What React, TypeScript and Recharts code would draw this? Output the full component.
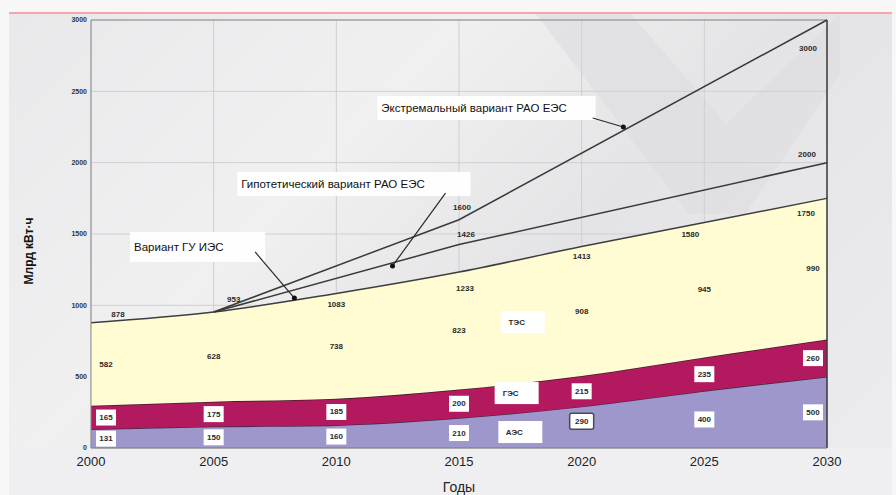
import React from "react"
import {
  ComposedChart,
  Area,
  Line,
  XAxis,
  YAxis,
  CartesianGrid,
  LabelList,
  ReferenceLine,
  ReferenceArea,
  ReferenceDot,
} from "recharts"

// Производство электроэнергии, млрд кВт·ч
const years = [2000, 2005, 2010, 2015, 2020, 2025, 2030]
const aes = [131, 150, 160, 210, 290, 400, 500]
const ges = [165, 175, 185, 200, 215, 235, 260]
const tes = [582, 628, 738, 823, 908, 945, 990]
const hypothetical = [null, 953, null, 1426, null, null, 2000]
const extreme = [null, 953, null, 1600, null, null, 3000]
const yTicks = [0, 500, 1000, 1500, 2000, 2500, 3000]

const FONT = "'Liberation Sans', Arial, sans-serif"

// label offsets [dx, dy] in px
const TOTAL_OFFSETS = [[27, -8], [20, -13], [0, 11], [6, 16], [0, 10], [-14, 12], [-21, 15]]
const HYP_OFFSETS = [[0, 0], [0, 0], [0, 0], [7, -10], [0, 0], [0, 0], [-20, -8]]
const EXT_OFFSETS = [[0, 0], [0, 0], [0, 0], [3, -12], [0, 0], [0, 0], [-19, 28]]
const BAND_DX = [15, 0, 0, 0, 0, 0, -14]

const data = years.map((year, i) => ({
  year,
  aes: aes[i],
  ges: ges[i],
  tes: tes[i],
  total: aes[i] + ges[i] + tes[i],
  hyp: hypothetical[i],
  ext: extreme[i],
  aesMid: aes[i] / 2,
  gesMid: aes[i] + ges[i] / 2,
  tesMid: aes[i] + ges[i] + tes[i] / 2,
}))

const smallNum = (
  values: (number | null)[],
  offsets: number[][] | null,
  boxed: boolean,
  skip: number[] = [],
  framed: number[] = []
) => (props: any) => {
  const { x, y, index } = props
  const v = values[index]
  if (v == null || skip.includes(index) || x == null || y == null) return null
  const dx = offsets ? offsets[index][0] : BAND_DX[index]
  const isFramed = framed.includes(index)
  const dy = offsets ? offsets[index][1] : isFramed ? -6 : 0
  const cx = x + dx
  const cy = y + dy
  return (
    <g key={`l-${index}`}>
      {boxed && !isFramed && <rect x={cx - 10} y={cy - 8} width={20} height={16} fill="#ffffff" />}
      {isFramed && (
        <rect x={cx - 12} y={cy - 8} width={24} height={16} rx={2} fill="#ffffff" stroke="#4a4a55" strokeWidth={1.5} />
      )}
      <text
        x={cx}
        y={cy}
        textAnchor="middle"
        dominantBaseline="central"
        fontSize={8}
        fontWeight={700}
        fontFamily={FONT}
        fill="#2a2a2a"
      >
        {v}
      </text>
    </g>
  )
}

const tagBox = (text: string) => (p: any) => (
  <g>
    <rect x={p.cx - 22} y={p.cy - 11} width={44} height={22} fill="#ffffff" />
    <text
      x={p.cx - 6}
      y={p.cy}
      textAnchor="middle"
      dominantBaseline="central"
      fontSize={8}
      fontWeight={700}
      fontFamily={FONT}
      fill="#2a2a2a"
    >
      {text}
    </text>
  </g>
)

// подписи вариантов и стрелки (координаты в единицах осей)
const notes = [
  { text: "Экстремальный вариант РАО ЕЭС", x1: 2011.67, x2: 2020.57, y1: 2299, y2: 2467, from: [2020.45, 2313], to: [2021.7, 2250] },
  { text: "Гипотетический вариант РАО ЕЭС", x1: 2005.96, x2: 2015.47, y1: 1766, y2: 1934, from: [2014.45, 1787], to: [2012.29, 1276] },
  { text: "Вариант ГУ ИЭС", x1: 2001.59, x2: 2007.1, y1: 1304, y2: 1514, from: [2006.69, 1374], to: [2008.29, 1051] },
]

export default function App() {
  return (
    <div style={{ position: "absolute", left: 0, top: 0, width: 896, height: 495, background: "#f7f7f8", overflow: "hidden" }}>
      <div style={{ position: "absolute", left: 9, top: 12, width: 883, height: 436, background: "linear-gradient(135deg, #e9e9eb 0%, #f0f0f1 35%, #e4e4e6 60%, #ececee 100%)" }} />
      <div style={{ position: "absolute", left: 460, top: 14, width: 380, height: 200, background: "#dedee1", clipPath: "polygon(20% 0, 45% 0, 70% 55%, 100% 0, 100% 30%, 75% 100%, 60% 100%)", opacity: 0.7 }} />
      <div style={{ position: "absolute", left: 9, top: 12, width: 883, height: 2, background: "#f6a6a6" }} />
      <div style={{ position: "absolute", left: 9, top: 448, width: 883, height: 47, background: "#efeff2" }} />
      <div style={{ position: "absolute", left: 0, top: 0 }}>
        <ComposedChart width={896} height={495} data={data} margin={{ top: 20, right: 69, bottom: 0, left: 20 }}>
          <CartesianGrid stroke="#cfcfd2" strokeWidth={1} />
          <XAxis
            dataKey="year"
            type="number"
            domain={[2000, 2030]}
            ticks={years}
            height={47}
            tickSize={0}
            tickMargin={9}
            axisLine={{ stroke: "#7a7a7a" }}
            tick={{ fontSize: 13, fill: "#222", fontFamily: FONT }}
            label={{ value: "Годы", position: "insideBottom", offset: 3, fontSize: 14, fill: "#222", fontFamily: FONT }}
          />
          <YAxis
            type="number"
            domain={[0, 3000]}
            ticks={yTicks}
            width={71}
            tickSize={0}
            tickMargin={4}
            axisLine={{ stroke: "#8a8a8a" }}
            tick={{ fontSize: 7, fontWeight: 700, fill: "#333", fontFamily: FONT }}
            label={(p: any) => {
              const vb = p.viewBox
              const lx = vb.x + 9
              const ly = vb.y + vb.height / 2 + 17
              return (
                <text
                  x={lx}
                  y={ly}
                  transform={`rotate(-90 ${lx} ${ly})`}
                  textAnchor="middle"
                  dominantBaseline="central"
                  fontSize={12}
                  fontWeight={700}
                  fontFamily={FONT}
                  fill="#111"
                >
                  Млрд кВт·ч
                </text>
              )
            }}
          />
          <Area type="monotone" dataKey="aes" stackId="1" fill="#9e97cc" fillOpacity={1} stroke="#4a2a4a" strokeWidth={1.5} isAnimationActive={false} />
          <Area type="monotone" dataKey="ges" stackId="1" fill="#b3195e" fillOpacity={1} stroke="#4a1a2a" strokeWidth={1.5} isAnimationActive={false} />
          <Area type="monotone" dataKey="tes" stackId="1" fill="#fffbd2" fillOpacity={1} stroke="#3e3e3e" strokeWidth={1.5} isAnimationActive={false} />
          <ReferenceLine y={3000} stroke="#8a8a8a" />
          <ReferenceLine x={2030} stroke="#3a3a3a" strokeWidth={1.5} />
          <Line dataKey="hyp" connectNulls stroke="#3a3a3a" strokeWidth={1.5} dot={false} activeDot={false} isAnimationActive={false}>
            <LabelList content={smallNum(hypothetical, HYP_OFFSETS, false, [1])} />
          </Line>
          <Line dataKey="ext" connectNulls stroke="#3a3a3a" strokeWidth={1.5} dot={false} activeDot={false} isAnimationActive={false}>
            <LabelList content={smallNum(extreme, EXT_OFFSETS, false, [1])} />
          </Line>
          <Line dataKey="total" stroke="none" dot={false} activeDot={false} isAnimationActive={false}>
            <LabelList content={smallNum(data.map((d) => d.total), TOTAL_OFFSETS, false)} />
          </Line>
          <Line dataKey="tesMid" stroke="none" dot={false} activeDot={false} isAnimationActive={false}>
            <LabelList content={smallNum(tes, null, false)} />
          </Line>
          <Line dataKey="gesMid" stroke="none" dot={false} activeDot={false} isAnimationActive={false}>
            <LabelList content={smallNum(ges, null, true)} />
          </Line>
          <Line dataKey="aesMid" stroke="none" dot={false} activeDot={false} isAnimationActive={false}>
            <LabelList content={smallNum(aes, null, true, [], [4])} />
          </Line>
          <ReferenceDot x={2017.6} y={883} r={0} shape={tagBox("ТЭС")} />
          <ReferenceDot x={2017.35} y={385} r={0} shape={tagBox("ГЭС")} />
          <ReferenceDot x={2017.5} y={112} r={0} shape={tagBox("АЭС")} />
          {notes.map((n) => (
            <ReferenceArea
              key={n.text}
              x1={n.x1}
              x2={n.x2}
              y1={n.y1}
              y2={n.y2}
              fill="#ffffff"
              fillOpacity={0.92}
              stroke="none"
              label={{ value: n.text, position: "insideLeft", offset: 4, fontSize: 11.5, fill: "#111", fontFamily: FONT }}
            />
          ))}
          {notes.map((n) => (
            <ReferenceLine
              key={`a-${n.text}`}
              segment={[{ x: n.from[0], y: n.from[1] }, { x: n.to[0], y: n.to[1] }]}
              stroke="#2a2a2a"
              strokeWidth={1.2}
            />
          ))}
          {notes.map((n) => (
            <ReferenceDot key={`d-${n.text}`} x={n.to[0]} y={n.to[1]} r={2.5} fill="#111" stroke="none" />
          ))}
        </ComposedChart>
      </div>
    </div>
  )
}
